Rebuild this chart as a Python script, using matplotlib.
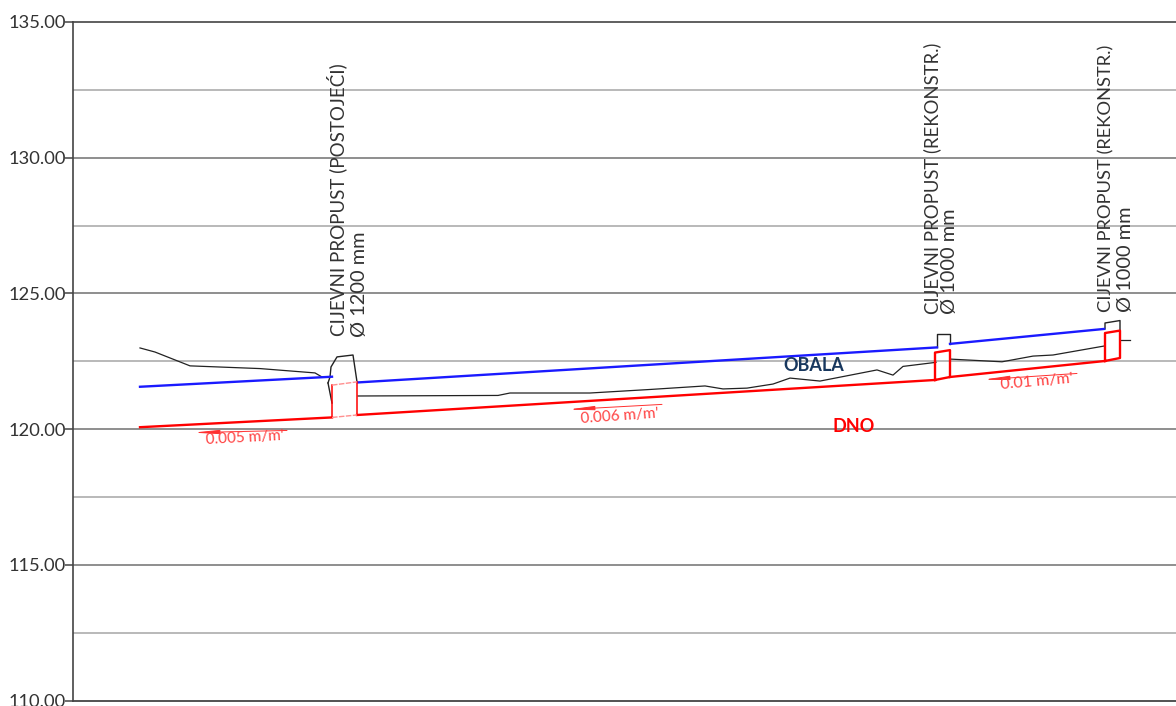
import matplotlib
matplotlib.use('Agg')
import matplotlib.pyplot as plt

# longitudinal profile, elevations in m
y_major = [110, 115, 120, 125, 130, 135]
y_minor = [112.5, 117.5, 122.5, 127.5, 132.5]

# terrain (black)
teren_a_x = [140, 155, 190, 260, 315, 322, 330]
teren_a_y = [122.99, 122.84, 122.33, 122.23, 122.07, 121.92, 121.92]
teren_b_x = [358, 498, 510, 590, 650, 705, 723, 747, 773, 790, 820, 877, 893, 903, 936]
teren_b_y = [121.22, 121.24, 121.33, 121.33, 121.46, 121.59, 121.48, 121.51, 121.66, 121.88, 121.77, 122.18, 121.99, 122.31, 122.46]
teren_c_x = [950, 1002, 1033, 1053, 1104]
teren_c_y = [122.58, 122.48, 122.69, 122.73, 123.06]
teren_d_x = [1120, 1130]
teren_d_y = [123.28, 123.28]

# water / bank line (blue)
obala_x = [[140, 332], [358, 937], [950, 1104]]
obala_y = [[121.56, 121.93], [121.72, 123.01], [123.14, 123.69]]

# channel bed (red)
dno_x = [[140, 332], [357, 935], [950, 1105]]
dno_y = [[120.07, 120.43], [120.52, 121.81], [121.92, 122.51]]

# culverts, outline in black
propust_x = [[328, 330, 331, 337, 353, 357], [328, 332], [937, 937, 950, 950], [1105, 1105, 1120, 1120]]
propust_y = [[121.70, 121.92, 122.29, 122.66, 122.73, 121.74], [121.70, 120.96], [123.01, 123.50, 123.50, 123.14], [123.69, 123.91, 124.00, 123.63]]

# culverts, outline in red
cijev_x = [[935, 935, 950, 950, 935], [1105, 1105, 1120, 1120, 1105]]
cijev_y = [[121.81, 122.82, 122.91, 121.92, 121.81], [122.51, 123.54, 123.63, 122.62, 122.51]]
cijev_tanka_x = [[332, 332], [357, 357]]
cijev_tanka_y = [[121.62, 120.43], [121.74, 120.52]]
cijev_svijetla_x = [[332, 357], [332, 357]]
cijev_svijetla_y = [[121.62, 121.74], [120.43, 120.52]]

# slope arrows and labels
pad_labels = ["0.005 m/m'", "0.006 m/m'", "0.01 m/m'"]
pad_x0 = [287, 662, 1077]
pad_x1 = [193, 568, 983]
pad_y0 = [119.95, 120.91, 122.05]
pad_y1 = [119.87, 120.72, 121.82]
pad_tx = [245, 620, 1037]
pad_ty = [119.66, 120.47, 121.73]
pad_rot = [3, 4, 5]
pad_size = [11, 11, 11.5]

propust_labels = ['CIJEVNI PROPUST (POSTOJEĆI)', 'Ø 1200 mm',
                  'CIJEVNI PROPUST (REKONSTR.)', 'Ø 1000 mm',
                  'CIJEVNI PROPUST (REKONSTR.)', 'Ø 1000 mm']
propust_lx = [337, 360, 932, 950, 1106, 1125]
propust_ly = [123.42, 123.40, 124.23, 124.23, 124.30, 124.30]
propust_size = [13.5, 14.4, 13.35, 14.4, 13.2, 14.4]

plt.rcParams['font.family'] = ['Lato', 'DejaVu Sans']

fig = plt.figure(figsize=(11.76, 7.06), dpi=100)
ax = fig.add_axes([73 / 1176, 5.5 / 706, 1103 / 1176, 678.5 / 706])
ax.set_xlim(73, 1176)
ax.set_ylim(110, 135)

for v in y_minor:
    ax.axhline(v, color='#a6a6a6', lw=1.1, zorder=1)
for v in y_major[1:-1]:
    ax.axhline(v, color='#707070', lw=1.1, zorder=1)

for sp in ['right', 'bottom']:
    ax.spines[sp].set_visible(False)
ax.axhline(110, color='#444444', lw=1.3, clip_on=False, zorder=1)
ax.spines['top'].set_color('#444444')
ax.spines['left'].set_color('#444444')
ax.spines['top'].set_linewidth(1.2)
ax.spines['left'].set_linewidth(1.2)

ax.set_xticks([])
ax.set_yticks(y_major)
ax.set_yticklabels(['%.2f' % v for v in y_major], fontsize=13.2, color='#333333')
ax.tick_params(axis='y', length=6, width=1.1, color='#444444', pad=-1)

for tx, ty in [(teren_a_x, teren_a_y), (teren_b_x, teren_b_y), (teren_c_x, teren_c_y), (teren_d_x, teren_d_y)]:
    ax.plot(tx, ty, color='#222222', lw=0.9, zorder=2)
for tx, ty in zip(propust_x, propust_y):
    ax.plot(tx, ty, color='#222222', lw=1, zorder=2)

for tx, ty in zip(obala_x, obala_y):
    ax.plot(tx, ty, color='#1a1aff', lw=1.7, zorder=3)
for tx, ty in zip(dno_x, dno_y):
    ax.plot(tx, ty, color='#ff0000', lw=1.7, zorder=4)
for tx, ty in zip(cijev_x, cijev_y):
    ax.plot(tx, ty, color='#ff0000', lw=1.7, zorder=4)
for tx, ty in zip(cijev_tanka_x, cijev_tanka_y):
    ax.plot(tx, ty, color='#ff0000', lw=1.1, zorder=4)
for tx, ty in zip(cijev_svijetla_x, cijev_svijetla_y):
    ax.plot(tx, ty, color='#ff9090', lw=1, ls=(0, (4, 1)), zorder=4)

for i in range(len(pad_labels)):
    ax.annotate('', xy=(pad_x1[i], pad_y1[i]), xytext=(pad_x0[i], pad_y0[i]),
                arrowprops=dict(arrowstyle='-|>,head_length=1.5,head_width=0.12', color='#ff3030', lw=0.7, shrinkA=0, shrinkB=0))
    ax.text(pad_tx[i], pad_ty[i], pad_labels[i], color='#ff4040', fontsize=pad_size[i],
            rotation=pad_rot[i], ha='center', va='center', rotation_mode='anchor')

for i in range(len(propust_labels)):
    ax.text(propust_lx[i], propust_ly[i], propust_labels[i], rotation=90, ha='center', va='bottom',
            fontsize=propust_size[i], color='#333333')

ax.text(814, 122.34, 'OBALA', color='#17375e', fontsize=13, fontweight='bold', ha='center', va='center')
ax.text(854, 120.08, 'DNO', color='#ff0000', fontsize=13, fontweight='bold', ha='center', va='center')

fig.savefig('out.png', dpi=100)
